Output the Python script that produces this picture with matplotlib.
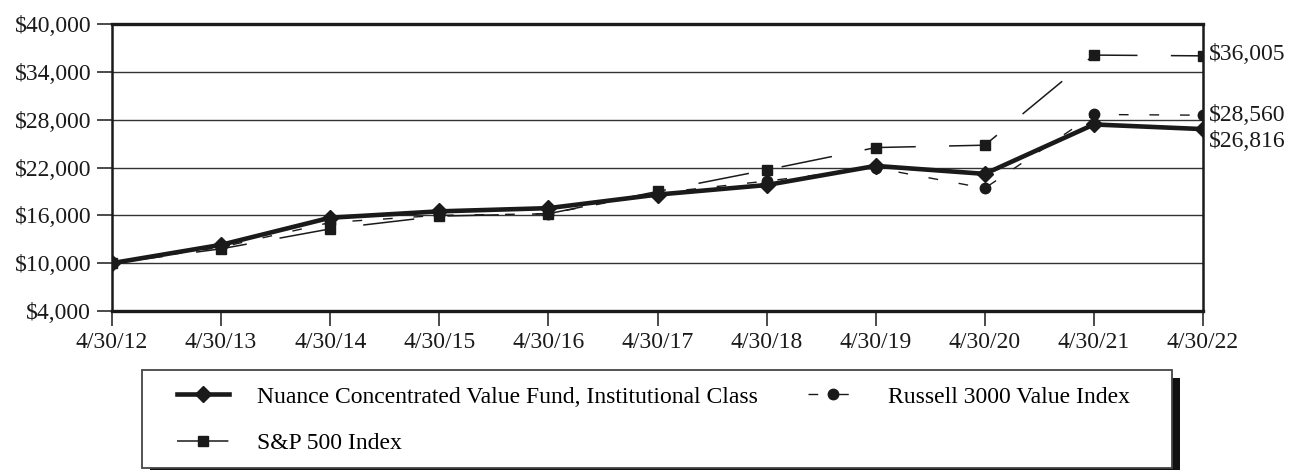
import matplotlib
matplotlib.use("Agg")
import matplotlib.pyplot as plt
from matplotlib.patches import Rectangle
from matplotlib.ticker import FuncFormatter

# ---- data ----
dates = ["4/30/12", "4/30/13", "4/30/14", "4/30/15", "4/30/16", "4/30/17",
         "4/30/18", "4/30/19", "4/30/20", "4/30/21", "4/30/22"]
fund = [10000, 12300, 15700, 16500, 16900, 18600, 19800, 22200, 21200, 27400, 26816]
russell = [10000, 12000, 15100, 16000, 16200, 18800, 20300, 21950, 19400, 28650, 28560]
sp500 = [10000, 11800, 14300, 15900, 16200, 19000, 21700, 24500, 24800, 36100, 36005]
yticks = [4000, 10000, 16000, 22000, 28000, 34000, 40000]
fund_label = "Nuance Concentrated Value Fund, Institutional Class"
russell_label = "Russell 3000 Value Index"
sp_label = "S&P 500 Index"
end_labels = ["$26,816", "$28,560", "$36,005"]

plt.rcParams['font.family'] = ['Liberation Serif', 'DejaVu Serif']
plt.rcParams['lines.scale_dashes'] = False
FS = 17

W, H = 1289, 470
fig = plt.figure(figsize=(W / 100, H / 100), dpi=100)
ax = fig.add_axes([112 / W, 1 - 311 / H, (1203 - 112) / W, (311 - 24) / H])

x = list(range(len(dates)))

l_fund, = ax.plot(x, fund, color='#1a1a1a', lw=3.3, marker='D', ms=8,
                  solid_joinstyle='miter', zorder=4, label=fund_label)
l_rus, = ax.plot(x, russell, color='#1a1a1a', lw=1.0, dashes=(7, 15),
                 marker='o', ms=7.5, zorder=5, label=russell_label)
l_sp, = ax.plot(x, sp500, color='#1a1a1a', lw=1.1, dashes=(37, 24),
                marker='s', ms=7, zorder=6, label=sp_label)

ax.set_xlim(0, len(dates) - 1)
ax.set_ylim(yticks[0], yticks[-1])
ax.set_xticks(x)
ax.set_xticklabels(dates)
ax.set_yticks(yticks)
ax.yaxis.set_major_formatter(FuncFormatter(lambda v, p: f"${v:,.0f}"))
ax.tick_params(axis='both', direction='out', length=11, width=1.1,
               labelsize=FS, pad=4, colors='#1a1a1a')
ax.grid(axis='y', color='#333333', lw=1.0, zorder=1)
for s in ax.spines.values():
    s.set_color('#1a1a1a')
    s.set_linewidth(1.8)
ax.spines['top'].set_linewidth(2.4)
ax.spines['bottom'].set_linewidth(2.4)

# end value labels
offsets = [(4, -9), (4, 0), (4, 1)]
for series, lab, off in zip([fund, russell, sp500], end_labels, offsets):
    ax.annotate(lab, xy=(x[-1], series[-1]), xytext=off, textcoords='offset points',
                ha='left', va='center', fontsize=FS, color='#1a1a1a',
                annotation_clip=False)

# legend frame with shadow
fx0, fy0 = 142 / W, 1 - 468 / H
fw, fh = (1172 - 142) / W, (468 - 370) / H
fig.patches.append(Rectangle((fx0 + 8 / W, fy0 - 8 / H), fw, fh, transform=fig.transFigure,
                             facecolor='#111111', edgecolor='none', zorder=0))
fig.patches.append(Rectangle((fx0, fy0), fw, fh, transform=fig.transFigure,
                             facecolor='white', edgecolor='#444444', lw=1.3, zorder=1))

leg = fig.legend(handles=[l_fund, l_sp, l_rus], ncol=2, loc='upper left',
                 bbox_to_anchor=(177 / W, 1 - 386 / H), frameon=False,
                 borderpad=0, borderaxespad=0, fontsize=FS,
                 handlelength=2.2, handletextpad=1.19, columnspacing=2.1,
                 labelspacing=1.07)
leg.set_zorder(2)

fig.savefig("out.png", dpi=100)
